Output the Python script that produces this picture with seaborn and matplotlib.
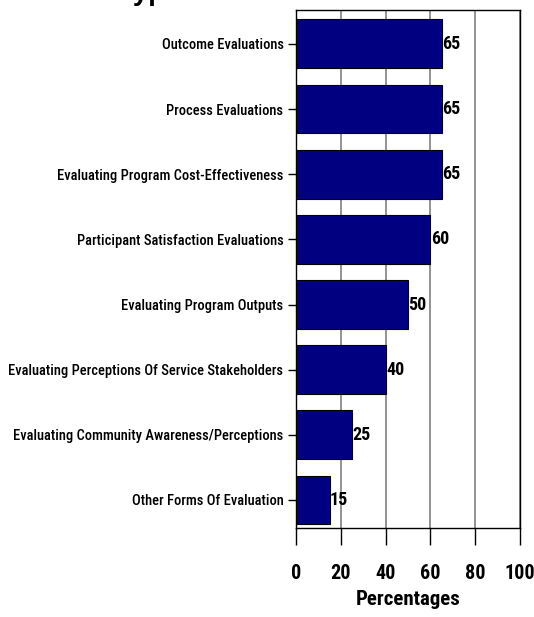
import matplotlib
matplotlib.use("Agg")
import matplotlib.pyplot as plt
from matplotlib import font_manager as fm
from matplotlib.font_manager import FontProperties
import seaborn as sns
import pandas as pd

categories = [
    "Outcome Evaluations",
    "Process Evaluations",
    "Evaluating Program Cost-Effectiveness",
    "Participant Satisfaction Evaluations",
    "Evaluating Program Outputs",
    "Evaluating Perceptions Of Service Stakeholders",
    "Evaluating Community Awareness/Perceptions",
    "Other Forms Of Evaluation",
]
percentages = [65, 65, 65, 60, 50, 40, 25, 15]
x_ticks = [0, 20, 40, 60, 80, 100]

sns.set_theme(style="white")
plt.rcParams["font.family"] = ["Liberation Sans", "DejaVu Sans"]
plt.rcParams["text.color"] = "black"
plt.rcParams["axes.labelcolor"] = "black"
plt.rcParams["xtick.color"] = "black"
plt.rcParams["ytick.color"] = "black"


def find_face(keys):
    """Return the first installed font file whose name contains one of keys."""
    files = [f.fname for f in fm.fontManager.ttflist]
    for key in keys:
        for path in files:
            if key in path.lower().replace("_", "").replace(" ", ""):
                return path
    return None


BOLD = find_face(["liberationsansnarrow-bold", "robotocondensed-bold.",
                  "robotocondensed-semibold", "robotocondensed-medium.",
                  "robotocondensed-regular", "dejavusanscondensed-bold."])
REGULAR = find_face(["robotocondensed-medium.", "robotocondensed-regular",
                     "liberationsansnarrow-regular"]) or BOLD


def fp(size, path=None):
    path = path or BOLD
    if path:
        return FontProperties(fname=path, size=size)
    return FontProperties(family="Liberation Sans", size=size)


df = pd.DataFrame({"category": categories, "pct": percentages})

fig = plt.figure(figsize=(5.34, 6.17), dpi=100)
ax = fig.add_axes([296 / 534, 1 - 528 / 617, 224 / 534, 518 / 617])

sns.barplot(data=df, x="pct", y="category", orient="h", color="#000080",
            saturation=1, width=0.75, edgecolor="black", linewidth=0.8,
            ax=ax, zorder=3)

ax.set_xlim(0, 100)
ax.set_ylim(7.43, -0.52)
ax.set_xticks(x_ticks)
ax.set_yticks(range(len(categories)))
ax.set_ylabel("")

# size the category labels so the longest one fits left of the axes
renderer = fig.canvas.get_renderer()
probe = fig.text(0, 0, categories[5], fontproperties=fp(14, REGULAR))
w = probe.get_window_extent(renderer).width
probe.remove()
label_size = min(15.0, 14 * 276 / w)

ax.set_yticklabels(categories, fontproperties=fp(label_size, REGULAR),
                   color="black")
ax.set_xticklabels([str(t) for t in x_ticks], fontproperties=fp(14.5),
                   color="black")
ax.set_xlabel("Percentages", fontproperties=fp(15), labelpad=5,
              color="black")

ax.xaxis.grid(True, color="#808080", linewidth=1.2, zorder=0)
ax.yaxis.grid(False)
for s in ax.spines.values():
    s.set_visible(True)
    s.set_color("black")
    s.set_linewidth(1.0)

ax.tick_params(axis="x", direction="out", length=12, width=1, color="black",
               pad=14, bottom=True)
ax.tick_params(axis="y", direction="out", length=6, width=1, color="black",
               pad=3, left=True)

for i, v in enumerate(percentages):
    ax.text(v + 0.2, i, str(v), va="center", ha="left",
            fontproperties=fp(13), color="black", zorder=4)

fig.text(118 / 534, 1.0, "Types of Evaluations", fontsize=20,
         fontweight="bold", ha="left", va="baseline", color="black")

fig.savefig("out.png", dpi=100)
